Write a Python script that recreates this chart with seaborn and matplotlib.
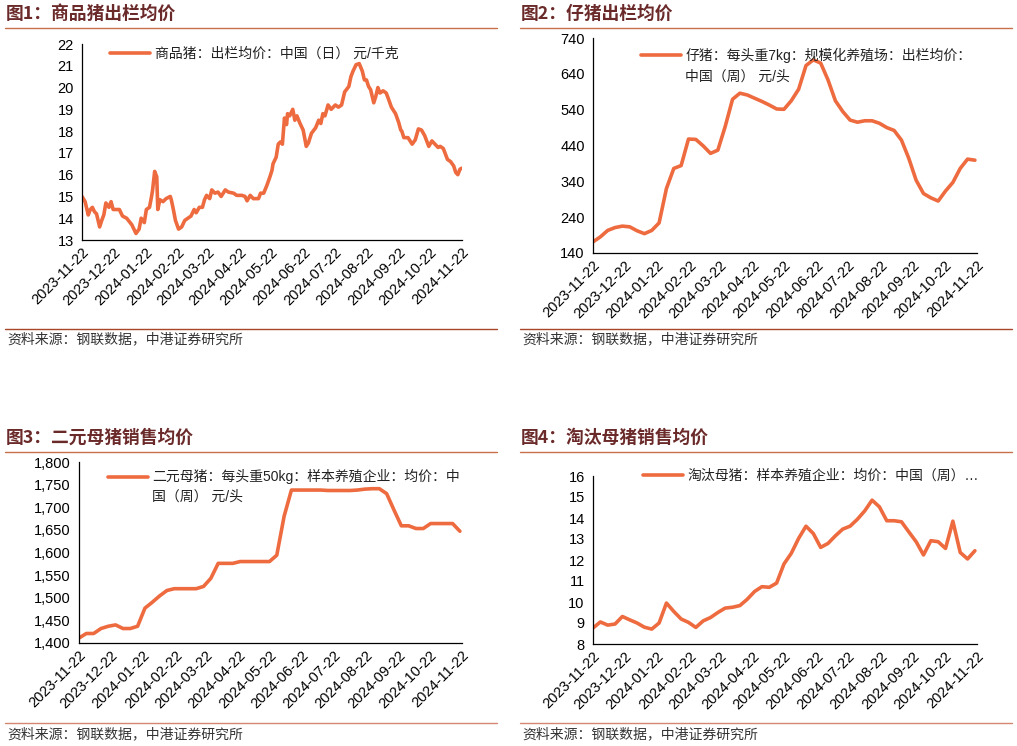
import numpy as np
import pandas as pd
import matplotlib
matplotlib.use("Agg")
import matplotlib.pyplot as plt
import matplotlib.dates as mdates
from matplotlib.lines import Line2D
from matplotlib.ticker import FuncFormatter
import seaborn as sns

sns.set_theme(style="white")
plt.rcParams['font.family'] = ['Liberation Sans', 'Noto Sans CJK SC', 'DejaVu Sans']
plt.rcParams['axes.unicode_minus'] = False

# ---------------- data ----------------
start_date = "2023-11-22"
tick_dates = ["2023-11-22", "2023-12-22", "2024-01-22", "2024-02-22", "2024-03-22",
              "2024-04-22", "2024-05-22", "2024-06-22", "2024-07-22", "2024-08-22",
              "2024-09-22", "2024-10-22", "2024-11-22"]

titles = ["图1：商品猪出栏均价", "图2：仔猪出栏均价", "图3：二元母猪销售均价", "图4：淘汰母猪销售均价"]
legend_labels = ["商品猪：出栏均价：中国（日） 元/千克",
                 "仔猪：每头重7kg：规模化养殖场：出栏均价：",
                 "二元母猪：每头重50kg：样本养殖企业：均价：中",
                 "淘汰母猪：样本养殖企业：均价：中国（周）…"]
legend_second = [None, "中国（周） 元/头", "国（周） 元/头", None]
source_text = "资料来源：钢联数据，中港证券研究所"

# panel 1: daily price (day offset from start, value)
p1_days = [0, 3, 6, 8, 10, 12, 14, 17, 19, 21, 23, 26, 28, 30, 33, 36, 39, 43, 48, 50,
           52, 55, 57, 60, 62, 65, 67, 68, 70, 72, 73, 75, 78, 81, 85, 86, 88, 90, 93, 96,
           99, 102, 105, 108, 110, 113, 116, 118, 120, 123, 125, 128, 131, 134, 138, 141, 146, 149, 154, 157,
           159, 162, 165, 170, 172, 175, 178, 181, 183, 184, 187, 189, 191, 193, 195, 197, 198, 200, 203, 205,
           207, 210, 213, 216, 218, 221, 225, 228, 230, 232, 234, 237, 240, 244, 247, 250, 253, 257, 259, 261,
           264, 267, 270, 272, 274, 276, 278, 281, 283, 285, 287, 290, 293, 295, 298, 302, 305, 307, 308, 310,
           314, 318, 321, 324, 327, 330, 334, 337, 340, 343, 345, 348, 352, 355, 358, 360, 362, 364, 366]
p1_vals = [15.0, 14.76, 14.15, 14.4, 14.5, 14.3, 14.2, 13.6, 13.9, 14.15, 14.7, 14.5, 14.76, 14.4, 14.4, 14.4, 14.1, 14.0, 13.7, 13.5,
           13.3, 13.5, 14.0, 13.8, 14.4, 14.5, 15.0, 15.3, 16.15, 15.9, 14.4, 14.85, 14.76, 14.9, 15.0, 14.85, 14.4, 13.9, 13.5, 13.6,
           13.9, 14.0, 14.1, 14.4, 14.25, 14.5, 14.5, 14.85, 15.05, 14.9, 15.3, 15.15, 15.2, 15.0, 15.3, 15.2, 15.15, 15.05, 15.05, 15.0,
           14.8, 15.05, 14.9, 14.9, 15.15, 15.15, 15.5, 15.9, 16.2, 16.5, 16.8, 17.4, 17.5, 17.4, 18.6, 18.3, 18.8, 18.7, 19.0, 18.5,
           18.7, 18.35, 18.05, 17.3, 17.45, 17.9, 18.15, 18.5, 18.35, 18.8, 18.7, 19.2, 19.0, 19.2, 19.1, 19.2, 19.8, 20.05, 20.5, 20.75,
           21.05, 21.1, 20.75, 20.35, 20.35, 20.05, 19.9, 19.3, 19.6, 20.0, 19.75, 19.85, 19.75, 19.5, 19.1, 18.8, 18.4, 18.05, 18.0, 17.7,
           17.7, 17.4, 17.6, 18.1, 18.05, 17.8, 17.3, 17.55, 17.4, 17.25, 17.3, 17.2, 16.7, 16.6, 16.4, 16.1, 16.0, 16.25, 16.3]

# panel 2: weekly piglet price (yuan/head)
p2_vals = [171, 185, 203, 211, 215, 213, 202, 194, 203, 224, 320, 376, 384, 458, 457, 439, 418, 427,
           493, 569, 586, 581, 572, 563, 553, 542, 541, 565, 597, 663, 679, 670, 623, 565, 535, 511,
           505, 509, 509, 502, 490, 482, 455, 404, 343, 306, 294, 285, 313, 337, 376, 402, 399]

# panel 3: weekly binary sow price (yuan/head)
p3_vals = [1411, 1421, 1421, 1432, 1437, 1440, 1432, 1432, 1437, 1477, 1490, 1504, 1516, 1520, 1520,
           1520, 1520, 1525, 1543, 1576, 1576, 1576, 1580, 1580, 1580, 1580, 1580, 1594, 1680, 1738,
           1738, 1738, 1738, 1738, 1737, 1737, 1737, 1737, 1738, 1740, 1741, 1741, 1730, 1694, 1659,
           1659, 1653, 1653, 1664, 1664, 1664, 1664, 1647]

# panel 4: weekly culled sow price
p4_vals = [8.76, 9.05, 8.9, 8.95, 9.31, 9.15, 9.0, 8.8, 8.71, 9.0, 9.95, 9.55, 9.19, 9.03, 8.79,
           9.1, 9.26, 9.5, 9.71, 9.75, 9.83, 10.13, 10.5, 10.73, 10.7, 10.9, 11.81, 12.32, 13.03,
           13.61, 13.26, 12.6, 12.79, 13.15, 13.47, 13.61, 13.94, 14.34, 14.85, 14.53, 13.87, 13.87,
           13.82, 13.34, 12.87, 12.24, 12.92, 12.87, 12.55, 13.85, 12.36, 12.05, 12.44]

y_ticks = [list(range(13, 23)), list(range(140, 741, 100)),
           list(range(1400, 1801, 50)), list(range(8, 17))]

# ---------------- build frames ----------------
t0 = pd.Timestamp(start_date)
df1 = pd.DataFrame({"date": t0 + pd.to_timedelta(p1_days, unit="D"), "value": p1_vals})
weeks = pd.date_range(start_date, periods=len(p2_vals), freq="7D")
df2 = pd.DataFrame({"date": weeks, "value": p2_vals})
df3 = pd.DataFrame({"date": weeks, "value": p3_vals})
df4 = pd.DataFrame({"date": weeks, "value": p4_vals})
frames = [df1, df2, df3, df4]

# ---------------- figure ----------------
W, H = 1017, 746
fig = plt.figure(figsize=(W / 100, H / 100), dpi=100)

def fx(px):
    return px / W

def fy(py):
    return 1 - py / H

# axes rectangles in pixel coords: left, right, top, bottom
rects = [(82, 462, 44, 240), (593, 977, 38, 253), (79, 462, 462, 643), (593, 977, 476, 644)]
legend_pos = [(0.074, 0.985), (0.125, 0.955), (0.0757, 0.96), (0.130, 1.045)]
second_pos = [None, (0.2396, 0.82), (0.19, 0.808), None]

line_color = "#EE6B40"
title_color = "#6B2A2A"
xticks = pd.to_datetime(tick_dates)

for i, (l, r, t, b) in enumerate(rects):
    ax = fig.add_axes([fx(l), fy(b), fx(r) - fx(l), fy(t) - fy(b)])
    sns.lineplot(data=frames[i], x="date", y="value", ax=ax, color=line_color,
                 linewidth=2.6, label=legend_labels[i])
    ax.set_xlim(xticks[0], xticks[-1])
    ax.set_ylim(y_ticks[i][0], y_ticks[i][-1])
    ax.set_yticks(y_ticks[i])
    if i == 2:
        ax.yaxis.set_major_formatter(FuncFormatter(lambda v, p: f"{v:,.0f}"))
    else:
        ax.yaxis.set_major_formatter(FuncFormatter(lambda v, p: f"{v:.0f}"))
    ax.set_xticks(xticks)
    ax.set_xticklabels([d.strftime("%Y-%m-%d") for d in xticks], rotation=45,
                       ha="right", rotation_mode="anchor")
    ax.set_xlabel("")
    ax.set_ylabel("")
    for s in ["top", "right"]:
        ax.spines[s].set_visible(False)
    for s in ["left", "bottom"]:
        ax.spines[s].set_color("black")
        ax.spines[s].set_linewidth(0.9)
    ax.tick_params(axis="both", direction="in", length=4, width=0.8, color="black",
                   labelsize=10.5, labelcolor="black")
    ax.tick_params(axis="x", pad=4)
    ax.tick_params(axis="y", pad=6)
    ax.set_facecolor("white")
    leg = ax.legend(loc="upper left", bbox_to_anchor=legend_pos[i], frameon=False,
                    fontsize=10, handlelength=2.85, handletextpad=0.35,
                    borderpad=0, borderaxespad=0)
    for txt in leg.get_texts():
        txt.set_color("#222222")
    if legend_second[i]:
        ax.text(second_pos[i][0], second_pos[i][1], legend_second[i], transform=ax.transAxes,
                fontsize=10, color="#222222", ha="left", va="center")

# titles, rules, sources
panels = [(5, 497, 14, 28, 329, 339), (520, 1012, 14, 28, 329, 339),
          (5, 497, 438, 452, 723, 734), (520, 1012, 438, 452, 723, 734)]
rule_top = "#C8704A"
rule_bottom = ["#A8462A", "#A8462A", "#D48672", "#D48672"]
for i, (x0, x1, ty, ly, sy, sty) in enumerate(panels):
    fig.text(fx(x0 + 1), fy(ty), titles[i], fontsize=12.8, fontweight="bold",
             color=title_color, ha="left", va="center",
             family=["Noto Sans CJK SC", "DejaVu Sans"])
    fig.add_artist(Line2D([fx(x0), fx(x1)], [fy(ly), fy(ly)], color=rule_top, lw=1.0))
    fig.add_artist(Line2D([fx(x0), fx(x1)], [fy(sy), fy(sy)], color=rule_bottom[i], lw=1.0))
    fig.text(fx(x0 + 2), fy(sty), source_text, fontsize=10, color="#333333",
             ha="left", va="center", style="italic",
             family=["Noto Sans CJK SC", "DejaVu Sans"])

fig.savefig("out.png", dpi=100, facecolor="white")
